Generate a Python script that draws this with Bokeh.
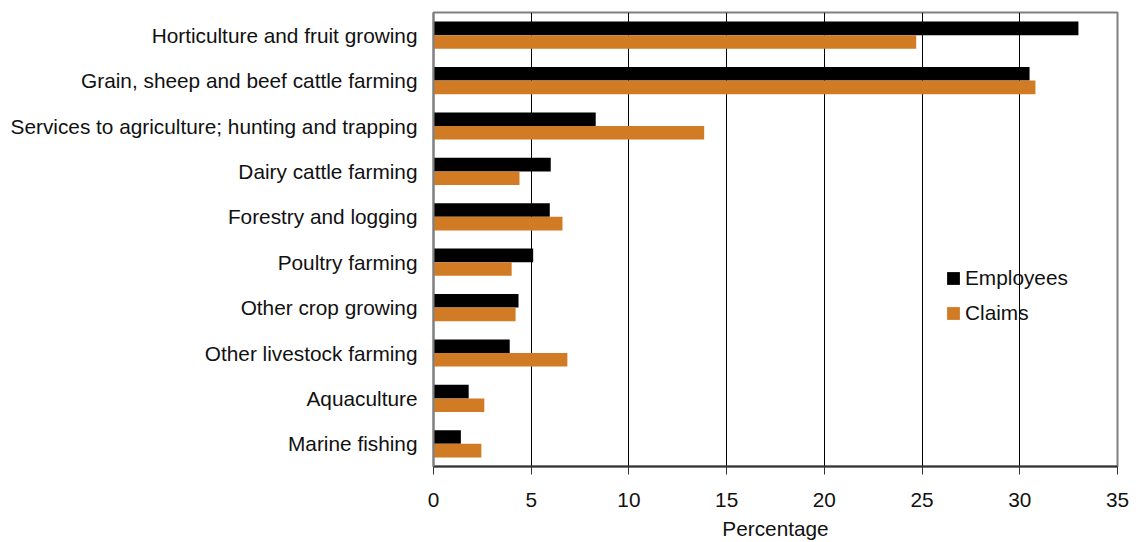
from bokeh.plotting import figure
from bokeh.models import FactorRange, FixedTicker, Legend, LegendItem, ColumnDataSource
from bokeh.transform import dodge
from bokeh.embed import file_html
from bokeh.resources import INLINE

# Industry groups, listed top to bottom as shown on the chart
industries = [
    "Horticulture and fruit growing",
    "Grain, sheep and beef cattle farming",
    "Services to agriculture; hunting and trapping",
    "Dairy cattle farming",
    "Forestry and logging",
    "Poultry farming",
    "Other crop growing",
    "Other livestock farming",
    "Aquaculture",
    "Marine fishing",
]
employees = [33.0, 30.5, 8.3, 6.0, 5.95, 5.1, 4.35, 3.9, 1.8, 1.4]
claims = [24.7, 30.8, 13.85, 4.4, 6.6, 4.0, 4.2, 6.85, 2.6, 2.45]
x_ticks = [0, 5, 10, 15, 20, 25, 30, 35]
x_title = "Percentage"

FONT = "Liberation Sans"
FSIZE = "20.8px"
TEXT = "#111111"
BLACK = "#000000"
ORANGE = "#D17B24"

src = ColumnDataSource(dict(ind=industries, emp=employees, clm=claims))

# categorical factors run bottom-up, so reverse the list
y_range = FactorRange(factors=industries[::-1], range_padding=0)

p = figure(
    width=1136, height=542,
    y_range=y_range, x_range=(x_ticks[0], x_ticks[-1]),
    output_backend="svg", toolbar_location=None,
    min_border_left=433, min_border_right=19,
    min_border_top=12, min_border_bottom=70,
)

r_emp = p.hbar(y=dodge("ind", 0.15, range=p.y_range), right="emp", left=0,
               height=0.3, source=src, fill_color=BLACK, line_color=None)
r_clm = p.hbar(y=dodge("ind", -0.15, range=p.y_range), right="clm", left=0,
               height=0.3, source=src, fill_color=ORANGE, line_color=None)

# x axis
xa = p.xaxis[0]
xa.ticker = FixedTicker(ticks=x_ticks)
xa.axis_label = x_title
xa.axis_label_text_font = FONT
xa.axis_label_text_font_size = FSIZE
xa.axis_label_text_font_style = "normal"
xa.axis_label_text_color = TEXT
xa.axis_label_standoff = 7
xa.major_label_text_font = FONT
xa.major_label_text_font_size = FSIZE
xa.major_label_text_color = TEXT
xa.major_label_standoff = 18
xa.major_tick_out = 8
xa.major_tick_in = 0
xa.minor_tick_out = 0
xa.minor_tick_in = 0
xa.axis_line_color = "#333333"
xa.axis_line_width = 2
xa.major_tick_line_color = "#333333"
xa.major_tick_line_width = 1

# y axis
ya = p.yaxis[0]
ya.major_label_text_font = FONT
ya.major_label_text_font_size = FSIZE
ya.major_label_text_color = TEXT
ya.major_label_standoff = 16
ya.major_tick_out = 0
ya.major_tick_in = 0
ya.axis_line_color = "#808080"
ya.axis_line_width = 2

# grid and frame
p.ygrid.grid_line_color = None
p.xgrid.grid_line_color = "#000000"
p.xgrid.grid_line_width = 1
p.outline_line_color = "#808080"
p.outline_line_width = 2
p.background_fill_color = "white"
p.border_fill_color = "white"

legend = Legend(
    items=[LegendItem(label="Employees", renderers=[r_emp]),
           LegendItem(label="Claims", renderers=[r_clm])],
    location=(512, 141),
    glyph_width=16, glyph_height=16,
    label_text_font=FONT, label_text_font_size=FSIZE,
    label_text_color=TEXT,
    label_standoff=4, spacing=11,
    padding=0, margin=0,
    border_line_color=None, background_fill_alpha=0,
)
p.add_layout(legend, "center")

open("out.html", "w").write(file_html(p, INLINE))
